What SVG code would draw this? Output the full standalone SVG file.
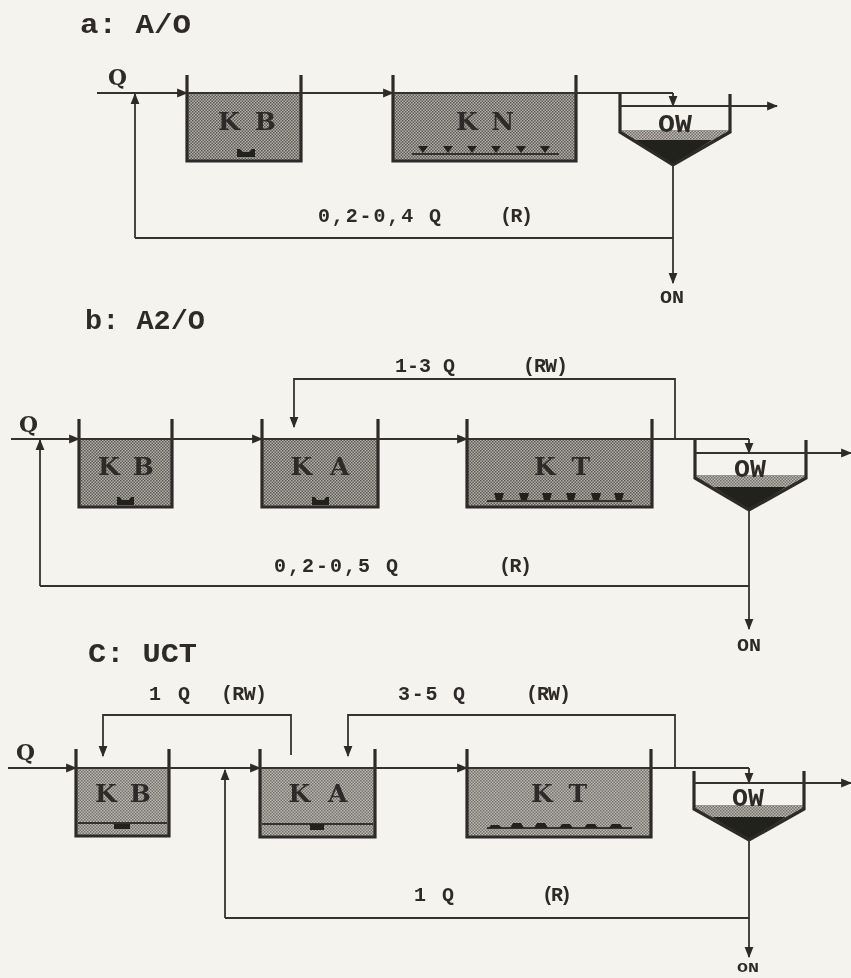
<svg xmlns="http://www.w3.org/2000/svg" width="851" height="978" viewBox="0 0 851 978">
<defs>
<pattern id="dither" width="3" height="3" patternUnits="userSpaceOnUse"><rect width="3" height="3" fill="#b4b1aa"/><rect width="1.5" height="1.5" fill="#5a5752"/><rect x="1.5" y="1.5" width="1.5" height="1.5" fill="#5f5c57"/></pattern>
<pattern id="dither2" width="3" height="3" patternUnits="userSpaceOnUse"><rect width="3" height="3" fill="#bdbab3"/><rect width="1.5" height="1.5" fill="#6f6c67"/><rect x="1.5" y="1.5" width="1.5" height="1.5" fill="#74716c"/></pattern>
<marker id="ah" viewBox="0 0 10 10" refX="9" refY="5" markerWidth="11" markerHeight="11" markerUnits="userSpaceOnUse" orient="auto"><path d="M0 1L10 5L0 9z" fill="#2e2c29"/></marker>
<filter id="soft" x="-5%" y="-5%" width="110%" height="110%"><feGaussianBlur stdDeviation="0.5"/></filter>
</defs>
<style>
.l{fill:none;stroke:#35332f;stroke-width:1.8}
.w{fill:none;stroke:#2e2c29;stroke-width:3.2}
.a{marker-end:url(#ah)}
.t{font-family:"Liberation Mono",monospace;font-weight:bold;fill:#2e2c29}
.k{font-family:"DejaVu Serif",serif;font-size:25px;text-anchor:middle}
.o{font-size:25px;text-anchor:middle}
.s{font-size:20px}
.h{font-size:27px}
.qq{font-family:"DejaVu Serif",serif;font-size:23px}
.on{font-size:18px;text-anchor:middle}
.d{fill:#24221f;stroke:none}
.q{fill:url(#dither)}
.q2{fill:url(#dither2)}
</style>
<rect width="851" height="978" fill="#f4f3ee"/>
<g filter="url(#soft)">
<g id="a-title"><text class="t h" x="80" y="33" textLength="111" lengthAdjust="spacingAndGlyphs">a: A/O</text><text class="t qq" x="108" y="85" textLength="19" lengthAdjust="spacingAndGlyphs">Q</text></g>
<g id="a-KB"><rect class="q" x="187" y="94" width="114" height="67"/><path class="w" d="M187 75V161H301V75"/><path class="d" d="M237 149h3l3 3h6l3-3h3v8h-18z"/><text class="t k" x="247" y="130" textLength="58" lengthAdjust="spacing">K B</text></g>
<g id="a-KN"><rect class="q" x="393" y="94" width="183" height="67"/><path class="w" d="M393 75V161H576V75"/><path class="l" d="M412 154H559"/><path class="d" d="M418 146h10l-5 7zM443 146h10l-5 7zM467 146h10l-5 7zM491 146h10l-5 7zM516 146h10l-5 7zM540 146h10l-5 7z"/><text class="t k" x="485" y="130" textLength="58" lengthAdjust="spacing">K N</text></g>
<g id="a-OW"><path class="q2" d="M620 130H730V132L673 165L620 132z"/><path class="d" d="M634 140H712L673 165z"/><path class="w" d="M620 94V132L673 165L730 132V94"/><text class="t o" x="675" y="132" textLength="34" lengthAdjust="spacingAndGlyphs">OW</text></g>
<g id="a-connectors"><path class="l" d="M97 93H673"/><path class="l a" d="M673 93V106"/><path class="l a" d="M620 106H777"/><path class="l a" d="M135 238V94"/><path class="l" d="M135 238H673"/><path class="l a" d="M673 165V283"/><path class="l a" d="M170 93H187"/><path class="l a" d="M380 93H393"/></g>
<g id="a-labels"><text class="t s" x="318" y="222" textLength="123" lengthAdjust="spacing">0,2-0,4 Q</text><text class="t s" x="500" y="222" textLength="33" lengthAdjust="spacing">(R)</text><text class="t on" x="672" y="303" textLength="24" lengthAdjust="spacingAndGlyphs">ON</text></g>

<g id="b-title"><text class="t h" x="85" y="329" textLength="120" lengthAdjust="spacingAndGlyphs">b: A2/O</text><text class="t qq" x="19" y="432" textLength="19" lengthAdjust="spacingAndGlyphs">Q</text></g>
<g id="b-KB"><rect class="q" x="79" y="440" width="93" height="67"/><path class="w" d="M79 419V507H172V419"/><path class="d" d="M117 497h3l2 3h7l2-3h3v8h-17z"/><text class="t k" x="126" y="475" textLength="56" lengthAdjust="spacing">K B</text></g>
<g id="b-KA"><rect class="q" x="262" y="440" width="116" height="67"/><path class="w" d="M262 419V507H378V419"/><path class="d" d="M312 497h3l2 3h7l2-3h3v8h-17z"/><text class="t k" x="320" y="475" textLength="59" lengthAdjust="spacing">K A</text></g>
<g id="b-KT"><rect class="q" x="467" y="440" width="185" height="67"/><path class="w" d="M467 419V507H652V419"/><path class="l" d="M487 501H632"/><path class="d" d="M494 493h10l-2 7h-6zM519 493h10l-2 7h-6zM542 493h10l-2 7h-6zM566 493h10l-2 7h-6zM591 493h10l-2 7h-6zM614 493h10l-2 7h-6z"/><text class="t k" x="562" y="475" textLength="56" lengthAdjust="spacing">K T</text></g>
<g id="b-OW"><path class="q2" d="M695 475H806V478L749 510L695 478z"/><path class="d" d="M714 487H786L749 510z"/><path class="w" d="M695 440V478L749 510L806 478V440"/><text class="t o" x="750" y="477" textLength="32" lengthAdjust="spacingAndGlyphs">OW</text></g>
<g id="b-connectors"><path class="l" d="M11 439H749"/><path class="l a" d="M749 439V453"/><path class="l a" d="M695 453H851"/><path class="l a" d="M40 586V440"/><path class="l" d="M40 586H749"/><path class="l a" d="M749 510V629"/><path class="l a" d="M675 439V379H294V427"/><path class="l a" d="M65 439H79"/><path class="l a" d="M248 439H262"/><path class="l a" d="M453 439H467"/></g>
<g id="b-labels"><text class="t s" x="395" y="372" textLength="60" lengthAdjust="spacing">1-3 Q</text><text class="t s" x="523" y="372" textLength="45" lengthAdjust="spacing">(RW)</text><text class="t s" x="274" y="572" textLength="124" lengthAdjust="spacing">0,2-0,5 Q</text><text class="t s" x="499" y="572" textLength="33" lengthAdjust="spacing">(R)</text><text class="t on" x="749" y="651" textLength="24" lengthAdjust="spacingAndGlyphs">ON</text></g>

<g id="c-title"><text class="t h" x="88" y="662" textLength="109" lengthAdjust="spacingAndGlyphs">C: UCT</text><text class="t qq" x="16" y="760" textLength="19" lengthAdjust="spacingAndGlyphs">Q</text></g>
<g id="c-KB"><rect class="q2" x="76" y="769" width="93" height="67"/><path class="w" d="M76 749V836H169V749"/><path class="l" d="M78 823H167"/><path class="d" d="M114 824h16v5h-16z"/><text class="t k" x="123" y="802" textLength="56" lengthAdjust="spacing">K B</text></g>
<g id="c-KA"><rect class="q2" x="260" y="769" width="115" height="68"/><path class="w" d="M260 749V837H375V749"/><path class="l" d="M262 824H373"/><path class="d" d="M310 824h14v6h-14z"/><text class="t k" x="318" y="802" textLength="59" lengthAdjust="spacing">K A</text></g>
<g id="c-KT"><rect class="q2" x="467" y="769" width="184" height="68"/><path class="w" d="M467 749V837H651V749"/><path class="l" d="M487 828H632"/><path class="d" d="M491 825h8l3 3h-13zM513 823h8l3 5h-14zM537 823h8l3 5h-14zM562 824h8l3 4h-14zM587 824h8l3 4h-14zM612 824h8l3 4h-14z"/><text class="t k" x="559" y="802" textLength="56" lengthAdjust="spacing">K T</text></g>
<g id="c-OW"><path class="q2" d="M694 805H804V809L749 840L694 809z"/><path class="d" d="M712 817H786L749 840z"/><path class="w" d="M694 771V809L749 840L804 809V771"/><text class="t o" x="748" y="806" textLength="32" lengthAdjust="spacingAndGlyphs">OW</text></g>
<g id="c-connectors"><path class="l" d="M8 768H749"/><path class="l a" d="M749 768V783"/><path class="l a" d="M694 783H851"/><path class="l a" d="M225 918V770"/><path class="l" d="M225 918H749"/><path class="l a" d="M749 840V957"/><path class="l a" d="M291 755V715H103V756"/><path class="l a" d="M675 768V715H348V756"/><path class="l a" d="M62 768H76"/><path class="l a" d="M246 768H260"/><path class="l a" d="M453 768H467"/></g>
<g id="c-labels"><text class="t s" x="149" y="700" textLength="41" lengthAdjust="spacing">1 Q</text><text class="t s" x="221" y="700" textLength="46" lengthAdjust="spacing">(RW)</text><text class="t s" x="398" y="700" textLength="67" lengthAdjust="spacing">3-5 Q</text><text class="t s" x="526" y="700" textLength="45" lengthAdjust="spacing">(RW)</text><text class="t s" x="414" y="901" textLength="40" lengthAdjust="spacing">1 Q</text><text class="t s" x="542" y="901" textLength="30" lengthAdjust="spacing">(R)</text><text class="t on" x="748" y="972" textLength="22" lengthAdjust="spacingAndGlyphs" style="font-size:13px">ON</text></g>
</g>
</svg>
